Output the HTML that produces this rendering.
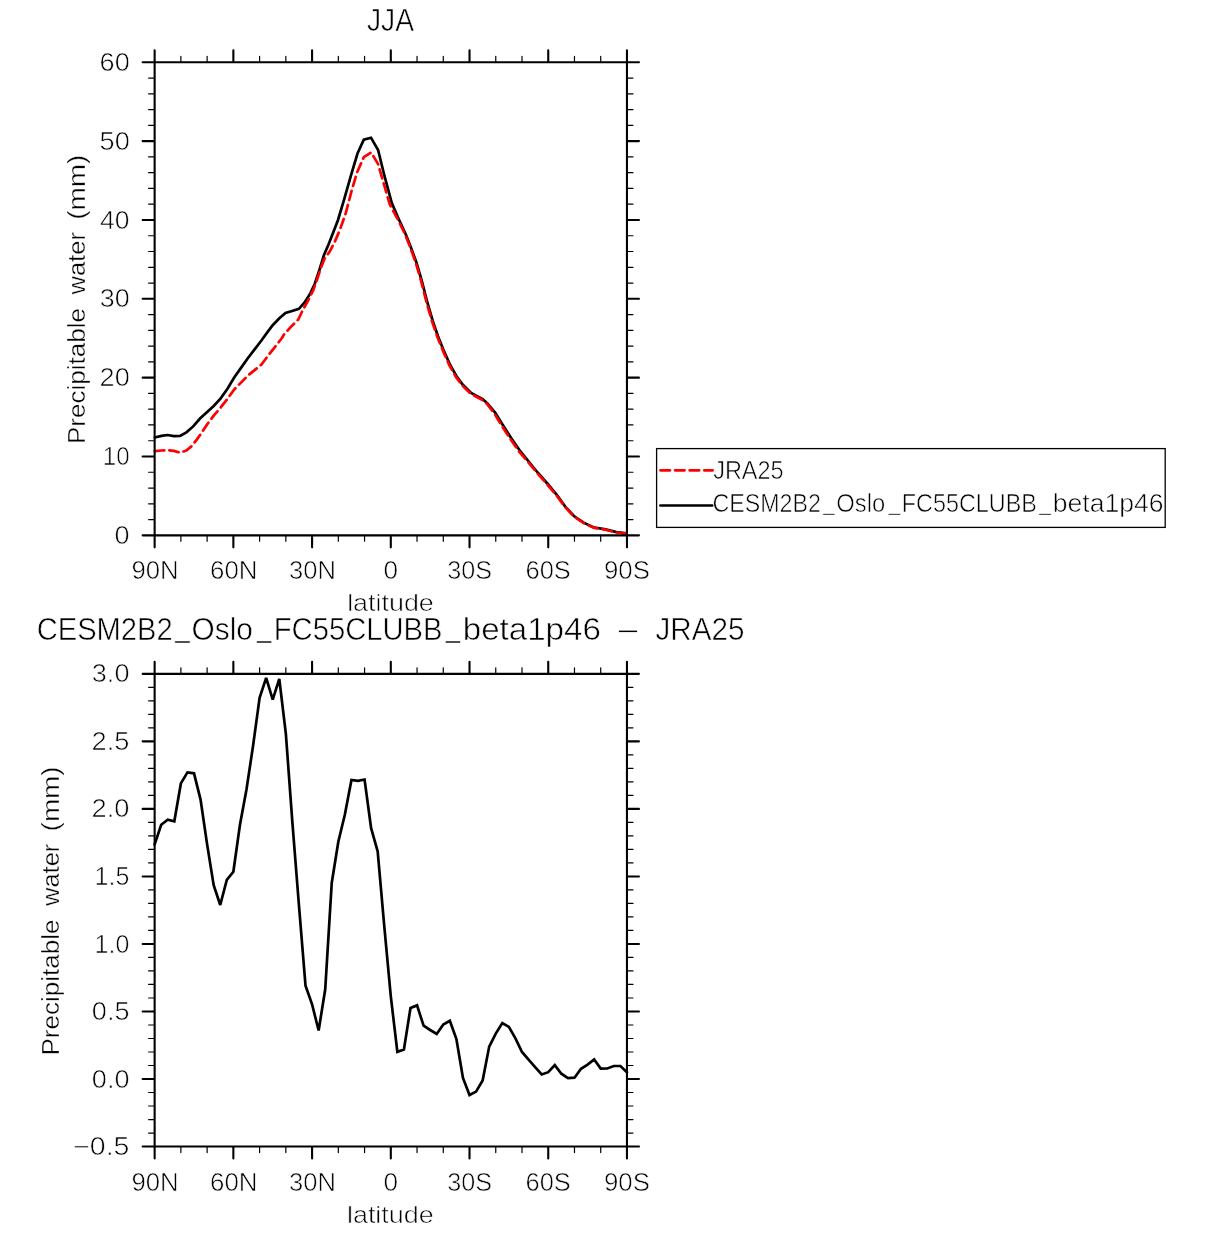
<!DOCTYPE html>
<html lang="en">
<head>
<meta charset="utf-8">
<title>JJA Precipitable water: CESM2B2_Oslo_FC55CLUBB_beta1p46 vs JRA25</title>
<style>
html,body{margin:0;padding:0;background:#fff;overflow:hidden;}
svg{display:block;will-change:transform;}
text{font-family:"Liberation Sans",sans-serif;fill:#000;white-space:pre;stroke:#fff;stroke-width:0.6;paint-order:fill stroke;}
text.rt{stroke-width:0.35;}
.fr{stroke:#000;stroke-width:2.1;stroke-linecap:round;fill:none;}
.mn{stroke:#000;stroke-width:1.2;stroke-linecap:round;fill:none;}
.cv{stroke:#000;stroke-width:2.7;fill:none;stroke-linejoin:miter;stroke-miterlimit:3;stroke-linecap:round;}
.rd{stroke:#f00;stroke-width:2.7;fill:none;stroke-linejoin:round;stroke-linecap:round;stroke-dasharray:9.5 5.1;}
</style>
</head>
<body>
<svg width="1231" height="1233" viewBox="0 0 1231 1233">
<rect x="0" y="0" width="1231" height="1233" fill="#fff"/>
<g id="top-plot">
<path class="cv" d="M154.8 437.5 L161.4 435.9 L167.6 435 L173.9 436.1 L180.1 435.9 L186.4 432.3 L193.2 426.4 L200 418.5 L206.9 412.2 L213.7 406 L220.5 398.6 L227.3 388.9 L234.2 377.5 L241 367.9 L247.8 358.2 L254.6 349.4 L261.4 340.5 L267.1 332.6 L272.7 325.2 L279.6 318 L285.5 312.9 L292.1 311 L298.9 308.9 L304.6 302.5 L310.3 293.4 L314.8 283.7 L319.4 270 L323.9 255.3 L328.5 244.5 L333.6 231.4 L338 220 L344.3 198.9 L351.2 174.6 L357.5 153.5 L363.8 139.6 L371 137.7 L378.1 150 L384.4 175.7 L391.8 203.1 L398.7 219 L405.5 233.8 L410 245 L416.4 262.3 L421.8 280.8 L427.2 302 L432.6 320.5 L437.9 336 L444.1 351.4 L450.3 365.2 L456.4 376 L462.6 384.5 L471.1 393 L482.6 399.1 L487.6 403.6 L495.1 412.6 L502.5 424.5 L511.1 438 L519.6 450.3 L529.1 462 L537.6 472.5 L547.3 483.5 L557 495.1 L565.4 506.8 L573.9 516 L583.6 522.7 L593.3 527.3 L605.5 529.4 L616.5 532.1 L626.6 533.3"/>
<path class="rd" d="M154.8 451.1 L161.4 450.5 L167.6 450.1 L173.9 450.9 L180.1 452.6 L186.4 450.5 L191.5 446.3 L196.6 439.9 L201.7 432.7 L206.9 424.7 L213.7 415.6 L220.5 407.7 L227.3 399.1 L234.2 389.5 L241 382.6 L247.8 375.6 L254.6 370.1 L261.5 364.5 L268.3 355.4 L275.1 346.8 L281.9 338 L284.1 334.3 L290.9 326.9 L298.3 319.5 L302.9 309.8 L308.6 299.6 L313.1 290.5 L316.5 281.4 L320.5 268.9 L324.5 258.7 L329.6 251.8 L334.7 241.9 L340 229.6 L345.9 212.7 L351.7 190.5 L357 172.5 L363.8 157.2 L371.2 152.5 L378.1 164.1 L383.9 184.1 L389.7 204.2 L398.1 220 L404.5 233.2 L409.6 245.6 L415.8 262.8 L421.2 281.3 L426.6 302.8 L432 321.3 L437.3 336.7 L443.5 352.1 L449.7 365.9 L455.8 376.7 L462 385.2 L470.5 393.6 L482 399.7 L487.2 404.2 L494.4 413.5 L501.7 425.6 L510.3 439 L518.8 451.2 L528.6 462.7 L537.2 473.1 L546.9 484 L556.7 495.6 L565.2 507.2 L573.7 516.3 L583.5 523 L593.2 527.6 L605.4 529.7 L616.4 532.5 L626.6 533.6"/>
<path class="fr" d="M142.64 62.28H638.96M142.64 535.35H638.96M154.64 50.28V547.35M626.96 50.28V547.35M233.36 62.28V50.28M233.36 535.35V547.35M312.08 62.28V50.28M312.08 535.35V547.35M390.8 62.28V50.28M390.8 535.35V547.35M469.52 62.28V50.28M469.52 535.35V547.35M548.24 62.28V50.28M548.24 535.35V547.35M154.64 141.12H142.64M626.96 141.12H638.96M154.64 219.97H142.64M626.96 219.97H638.96M154.64 298.81H142.64M626.96 298.81H638.96M154.64 377.66H142.64M626.96 377.66H638.96M154.64 456.51H142.64M626.96 456.51H638.96"/>
<path class="mn" d="M180.88 62.28V56.28M180.88 535.35V541.35M207.12 62.28V56.28M207.12 535.35V541.35M259.6 62.28V56.28M259.6 535.35V541.35M285.84 62.28V56.28M285.84 535.35V541.35M338.32 62.28V56.28M338.32 535.35V541.35M364.56 62.28V56.28M364.56 535.35V541.35M417.04 62.28V56.28M417.04 535.35V541.35M443.28 62.28V56.28M443.28 535.35V541.35M495.76 62.28V56.28M495.76 535.35V541.35M522 62.28V56.28M522 535.35V541.35M574.48 62.28V56.28M574.48 535.35V541.35M600.72 62.28V56.28M600.72 535.35V541.35M154.64 78.05H148.64M626.96 78.05H632.96M154.64 93.82H148.64M626.96 93.82H632.96M154.64 109.59H148.64M626.96 109.59H632.96M154.64 125.36H148.64M626.96 125.36H632.96M154.64 156.89H148.64M626.96 156.89H632.96M154.64 172.66H148.64M626.96 172.66H632.96M154.64 188.43H148.64M626.96 188.43H632.96M154.64 204.2H148.64M626.96 204.2H632.96M154.64 235.74H148.64M626.96 235.74H632.96M154.64 251.51H148.64M626.96 251.51H632.96M154.64 267.28H148.64M626.96 267.28H632.96M154.64 283.05H148.64M626.96 283.05H632.96M154.64 314.58H148.64M626.96 314.58H632.96M154.64 330.35H148.64M626.96 330.35H632.96M154.64 346.12H148.64M626.96 346.12H632.96M154.64 361.89H148.64M626.96 361.89H632.96M154.64 393.43H148.64M626.96 393.43H632.96M154.64 409.2H148.64M626.96 409.2H632.96M154.64 424.97H148.64M626.96 424.97H632.96M154.64 440.74H148.64M626.96 440.74H632.96M154.64 472.27H148.64M626.96 472.27H632.96M154.64 488.04H148.64M626.96 488.04H632.96M154.64 503.81H148.64M626.96 503.81H632.96M154.64 519.58H148.64M626.96 519.58H632.96"/>
<text x="367.01" y="31.2" font-size="31.7" textLength="47.06" lengthAdjust="spacingAndGlyphs">JJA</text>
<text x="99.59" y="70.88" font-size="24.9" textLength="30.16" lengthAdjust="spacingAndGlyphs">60</text>
<text x="99.58" y="149.72" font-size="24.9" textLength="30.17" lengthAdjust="spacingAndGlyphs">50</text>
<text x="100.12" y="228.57" font-size="24.9" textLength="29.45" lengthAdjust="spacingAndGlyphs">40</text>
<text x="99.87" y="307.42" font-size="24.9" textLength="29.92" lengthAdjust="spacingAndGlyphs">30</text>
<text x="99.59" y="386.26" font-size="24.9" textLength="30.16" lengthAdjust="spacingAndGlyphs">20</text>
<text x="102.82" y="465.11" font-size="24.9" textLength="26.78" lengthAdjust="spacingAndGlyphs">10</text>
<text x="114.56" y="543.95" font-size="24.9" textLength="15.05" lengthAdjust="spacingAndGlyphs">0</text>
<text x="131.52" y="579.3" font-size="24.9" textLength="47.16" lengthAdjust="spacingAndGlyphs">90N</text>
<text x="210.1" y="579.3" font-size="24.9" textLength="47.47" lengthAdjust="spacingAndGlyphs">60N</text>
<text x="289.11" y="579.3" font-size="24.9" textLength="46.89" lengthAdjust="spacingAndGlyphs">30N</text>
<text x="383.59" y="579.3" font-size="24.9" textLength="14.53" lengthAdjust="spacingAndGlyphs">0</text>
<text x="447.21" y="579.3" font-size="24.9" textLength="44.84" lengthAdjust="spacingAndGlyphs">30S</text>
<text x="525.5" y="579.3" font-size="24.9" textLength="45.25" lengthAdjust="spacingAndGlyphs">60S</text>
<text x="604" y="579.3" font-size="24.9" textLength="45.95" lengthAdjust="spacingAndGlyphs">90S</text>
<text x="347.15" y="611.1" font-size="24.3" textLength="86.67" lengthAdjust="spacingAndGlyphs">latitude</text>
<text class="rt" transform="translate(85.2 0) rotate(-90)"><tspan x="-444.01" y="0" font-size="24.8" textLength="136.12" lengthAdjust="spacingAndGlyphs">Precipitable</tspan> <tspan x="-294.5" y="0" font-size="24.8" textLength="62.39" lengthAdjust="spacingAndGlyphs">water</tspan> <tspan x="-219.88" y="0" font-size="24.8" textLength="65.04" lengthAdjust="spacingAndGlyphs">(mm)</tspan></text>
</g>
<g id="legend">
<rect x="656.6" y="448.6" width="508.6" height="78.8" fill="#fff" stroke="#000" stroke-width="1.3"/>
<path class="rd" d="M660.45 470.3H712.65"/>
<path class="cv" d="M660.45 505.5H712.3"/>
<text x="713.14" y="478.7" font-size="25.6" textLength="70.58" lengthAdjust="spacingAndGlyphs">JRA25</text>
<text><tspan x="712.43" y="511.7" font-size="25.6" textLength="108.48" lengthAdjust="spacingAndGlyphs">CESM2B2</tspan><tspan x="823.19" y="509.65" font-size="25.6" textLength="11.4" lengthAdjust="spacingAndGlyphs">_</tspan><tspan x="836.31" y="511.7" font-size="25.6" textLength="48.95" lengthAdjust="spacingAndGlyphs">Oslo</tspan><tspan x="888.38" y="509.65" font-size="25.6" textLength="11.65" lengthAdjust="spacingAndGlyphs">_</tspan><tspan x="901.74" y="511.7" font-size="25.6" textLength="135.08" lengthAdjust="spacingAndGlyphs">FC55CLUBB</tspan><tspan x="1039.19" y="509.65" font-size="25.6" textLength="11.65" lengthAdjust="spacingAndGlyphs">_</tspan><tspan x="1052.74" y="511.7" font-size="25.6" textLength="110.81" lengthAdjust="spacingAndGlyphs">beta1p46</tspan></text>
</g>
<g id="bottom-plot">
<path class="cv" d="M154.64 844.4 L161.2 824.7 L167.76 819.6 L174.32 821.3 L180.88 783.4 L187.44 772.4 L194 773.3 L200.56 799.6 L207.12 844.4 L213.68 885.3 L220.24 905 L226.8 879.9 L233.36 871.8 L239.92 825 L246.48 789.5 L253.04 746 L259.6 697.8 L266.16 677.8 L272.72 699.7 L279.28 678.9 L285.84 733.6 L292.4 822.6 L298.96 905.5 L305.52 985.7 L312.08 1004.3 L318.64 1030.5 L325.2 989.5 L331.76 882.7 L338.32 841.8 L344.88 814.5 L351.44 780 L358 780.9 L364.56 779.5 L371.12 828.2 L377.68 851.4 L384.24 925.9 L390.8 996.4 L397.36 1051.8 L403.92 1049.4 L410.48 1008 L417.04 1005.4 L423.6 1025.7 L430.16 1030 L436.72 1034 L443.28 1024.5 L449.84 1020.8 L456.4 1039 L462.96 1078 L469.52 1095 L476.08 1091.6 L482.64 1080.4 L489.2 1046.6 L495.76 1033.6 L502.32 1023 L508.88 1026.9 L515.44 1038.3 L522 1052 L528.56 1059.7 L535.12 1067.1 L541.68 1074.5 L548.24 1072.2 L554.8 1065.2 L561.36 1073.7 L567.92 1078.2 L574.48 1077.7 L581.04 1068.8 L587.6 1064.6 L594.16 1059.4 L600.72 1068.6 L607.28 1068.5 L613.84 1066 L620.4 1066 L626.96 1072.2"/>
<path class="fr" d="M142.64 673.84H638.96M142.64 1146.54H638.96M154.64 661.84V1158.54M626.96 661.84V1158.54M233.36 673.84V661.84M233.36 1146.54V1158.54M312.08 673.84V661.84M312.08 1146.54V1158.54M390.8 673.84V661.84M390.8 1146.54V1158.54M469.52 673.84V661.84M469.52 1146.54V1158.54M548.24 673.84V661.84M548.24 1146.54V1158.54M154.64 741.37H142.64M626.96 741.37H638.96M154.64 808.9H142.64M626.96 808.9H638.96M154.64 876.43H142.64M626.96 876.43H638.96M154.64 943.95H142.64M626.96 943.95H638.96M154.64 1011.48H142.64M626.96 1011.48H638.96M154.64 1079.01H142.64M626.96 1079.01H638.96"/>
<path class="mn" d="M180.88 673.84V667.84M180.88 1146.54V1152.54M207.12 673.84V667.84M207.12 1146.54V1152.54M259.6 673.84V667.84M259.6 1146.54V1152.54M285.84 673.84V667.84M285.84 1146.54V1152.54M338.32 673.84V667.84M338.32 1146.54V1152.54M364.56 673.84V667.84M364.56 1146.54V1152.54M417.04 673.84V667.84M417.04 1146.54V1152.54M443.28 673.84V667.84M443.28 1146.54V1152.54M495.76 673.84V667.84M495.76 1146.54V1152.54M522 673.84V667.84M522 1146.54V1152.54M574.48 673.84V667.84M574.48 1146.54V1152.54M600.72 673.84V667.84M600.72 1146.54V1152.54M154.64 687.35H148.64M626.96 687.35H632.96M154.64 700.85H148.64M626.96 700.85H632.96M154.64 714.36H148.64M626.96 714.36H632.96M154.64 727.86H148.64M626.96 727.86H632.96M154.64 754.87H148.64M626.96 754.87H632.96M154.64 768.38H148.64M626.96 768.38H632.96M154.64 781.89H148.64M626.96 781.89H632.96M154.64 795.39H148.64M626.96 795.39H632.96M154.64 822.4H148.64M626.96 822.4H632.96M154.64 835.91H148.64M626.96 835.91H632.96M154.64 849.41H148.64M626.96 849.41H632.96M154.64 862.92H148.64M626.96 862.92H632.96M154.64 889.93H148.64M626.96 889.93H632.96M154.64 903.44H148.64M626.96 903.44H632.96M154.64 916.94H148.64M626.96 916.94H632.96M154.64 930.45H148.64M626.96 930.45H632.96M154.64 957.46H148.64M626.96 957.46H632.96M154.64 970.97H148.64M626.96 970.97H632.96M154.64 984.47H148.64M626.96 984.47H632.96M154.64 997.98H148.64M626.96 997.98H632.96M154.64 1024.99H148.64M626.96 1024.99H632.96M154.64 1038.49H148.64M626.96 1038.49H632.96M154.64 1052H148.64M626.96 1052H632.96M154.64 1065.51H148.64M626.96 1065.51H632.96M154.64 1092.52H148.64M626.96 1092.52H632.96M154.64 1106.02H148.64M626.96 1106.02H632.96M154.64 1119.53H148.64M626.96 1119.53H632.96M154.64 1133.03H148.64M626.96 1133.03H632.96"/>
<text><tspan x="36.73" y="640.1" font-size="31.7" textLength="135.89" lengthAdjust="spacingAndGlyphs">CESM2B2</tspan><tspan x="175.15" y="637.2" font-size="31.7" textLength="14.49" lengthAdjust="spacingAndGlyphs">_</tspan><tspan x="191.61" y="640.1" font-size="31.7" textLength="61.31" lengthAdjust="spacingAndGlyphs">Oslo</tspan><tspan x="256.94" y="637.2" font-size="31.7" textLength="14.43" lengthAdjust="spacingAndGlyphs">_</tspan><tspan x="273.7" y="640.1" font-size="31.7" textLength="168.91" lengthAdjust="spacingAndGlyphs">FC55CLUBB</tspan><tspan x="445.74" y="637.2" font-size="31.7" textLength="14.32" lengthAdjust="spacingAndGlyphs">_</tspan><tspan x="462.71" y="640.1" font-size="31.7" textLength="138.18" lengthAdjust="spacingAndGlyphs">beta1p46</tspan> <tspan x="616.86" y="641.6" font-size="31.7" textLength="22.59" lengthAdjust="spacingAndGlyphs">−</tspan> <tspan x="655.51" y="640" font-size="31.7" textLength="88.91" lengthAdjust="spacingAndGlyphs">JRA25</tspan></text>
<text x="91.81" y="682.24" font-size="24.9" textLength="37.65" lengthAdjust="spacingAndGlyphs">3.0</text>
<text x="91.57" y="749.83" font-size="24.9" textLength="37.86" lengthAdjust="spacingAndGlyphs">2.5</text>
<text x="91.54" y="817.42" font-size="24.9" textLength="37.93" lengthAdjust="spacingAndGlyphs">2.0</text>
<text x="94.56" y="885.01" font-size="24.9" textLength="34.76" lengthAdjust="spacingAndGlyphs">1.5</text>
<text x="94.56" y="952.59" font-size="24.9" textLength="34.74" lengthAdjust="spacingAndGlyphs">1.0</text>
<text x="91.83" y="1020.18" font-size="24.9" textLength="37.65" lengthAdjust="spacingAndGlyphs">0.5</text>
<text x="91.84" y="1087.77" font-size="24.9" textLength="37.64" lengthAdjust="spacingAndGlyphs">0.0</text>
<text x="73.16" y="1155.36" font-size="24.9" textLength="56.3" lengthAdjust="spacingAndGlyphs">−0.5</text>
<text x="131.52" y="1190.9" font-size="24.9" textLength="47.16" lengthAdjust="spacingAndGlyphs">90N</text>
<text x="210.1" y="1190.9" font-size="24.9" textLength="47.47" lengthAdjust="spacingAndGlyphs">60N</text>
<text x="289.11" y="1190.9" font-size="24.9" textLength="46.89" lengthAdjust="spacingAndGlyphs">30N</text>
<text x="383.59" y="1190.9" font-size="24.9" textLength="14.53" lengthAdjust="spacingAndGlyphs">0</text>
<text x="447.21" y="1190.9" font-size="24.9" textLength="44.84" lengthAdjust="spacingAndGlyphs">30S</text>
<text x="525.5" y="1190.9" font-size="24.9" textLength="45.25" lengthAdjust="spacingAndGlyphs">60S</text>
<text x="604" y="1190.9" font-size="24.9" textLength="45.95" lengthAdjust="spacingAndGlyphs">90S</text>
<text x="346.96" y="1223.2" font-size="24.3" textLength="86.79" lengthAdjust="spacingAndGlyphs">latitude</text>
<text class="rt" transform="translate(59 0) rotate(-90)"><tspan x="-1055.52" y="0" font-size="24.8" textLength="136.13" lengthAdjust="spacingAndGlyphs">Precipitable</tspan> <tspan x="-906.03" y="0" font-size="24.8" textLength="62.39" lengthAdjust="spacingAndGlyphs">water</tspan> <tspan x="-831.41" y="0" font-size="24.8" textLength="65.06" lengthAdjust="spacingAndGlyphs">(mm)</tspan></text>
</g>
</svg>
</body>
</html>
